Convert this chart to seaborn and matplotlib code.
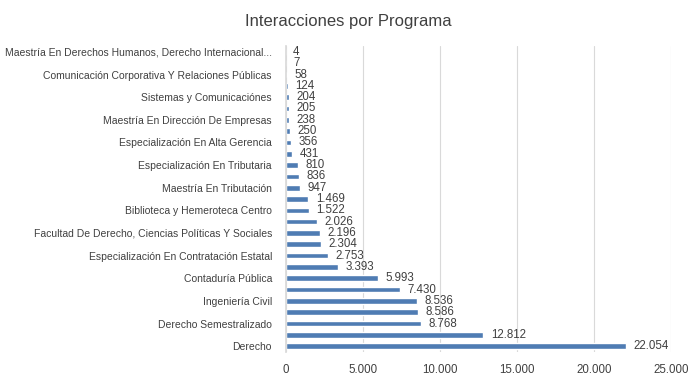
import numpy as np
import pandas as pd
import matplotlib
matplotlib.use("Agg")
import matplotlib.pyplot as plt
import seaborn as sns

# ---------------------------------------------------------------------------
# Data (top of chart -> bottom). Excel only printed every other label.
# ---------------------------------------------------------------------------
labels = [
    "Maestría En Derechos Humanos, Derecho Internacional...", "",
    "Comunicación Corporativa Y Relaciones Públicas", "",
    "Sistemas y Comunicaciónes", "",
    "Maestría En Dirección De Empresas", "",
    "Especialización En Alta Gerencia", "",
    "Especialización En Tributaria", "",
    "Maestría En Tributación", "",
    "Biblioteca y Hemeroteca Centro", "",
    "Facultad De Derecho, Ciencias Políticas Y Sociales", "",
    "Especialización En Contratación Estatal", "",
    "Contaduría Pública", "",
    "Ingeniería Civil", "",
    "Derecho Semestralizado", "",
    "Derecho",
]
interacciones = [
    4, 7, 58, 124, 204, 205, 238, 250, 356, 431, 810, 836, 947, 1469,
    1522, 2026, 2196, 2304, 2753, 3393, 5993, 7430, 8536, 8586, 8768,
    12812, 22054,
]
x_ticks = [0, 5000, 10000, 15000, 20000, 25000]

BAR = "#4F7CB3"
TXT = "#404040"


def miles(v):
    return f"{v:,.0f}".replace(",", ".")


sns.set_theme(style="white")
plt.rcParams["font.family"] = ["Liberation Sans", "DejaVu Sans"]

df = pd.DataFrame({"pos": np.arange(len(interacciones)), "valor": interacciones})

fig = plt.figure(figsize=(6.97, 3.82), dpi=100)
ax = fig.add_axes([0.410, 0.079, 0.553, 0.800])

sns.barplot(data=df, x="valor", y="pos", orient="h", native_scale=True,
            color=BAR, saturation=1, width=0.5, ax=ax)

for p, v in zip(df["pos"], df["valor"]):
    ax.text(v + 480, p, miles(v), va="center", ha="left", fontsize=8.3, color=TXT)

ax.set_xlim(0, 25000)
ax.set_ylim(len(interacciones) - 0.5, -0.5)
ax.set_xticks(x_ticks)
ax.set_xticklabels([miles(t) for t in x_ticks], fontsize=8.3, color=TXT)
ax.set_yticks(df["pos"])
ax.set_yticklabels(labels, fontsize=7.5, color=TXT)
ax.tick_params(axis="y", length=0, pad=10)
ax.tick_params(axis="x", length=0, pad=9)
ax.set_xlabel("")
ax.set_ylabel("")

ax.grid(axis="x", color="#D9D9D9", linewidth=0.8)
ax.set_axisbelow(True)
for s in ["top", "right", "bottom"]:
    ax.spines[s].set_visible(False)
ax.spines["left"].set_color("#D9D9D9")

fig.text(0.5, 0.945, "Interacciones por Programa", ha="center", va="center",
         fontsize=12, color="#404040")

fig.savefig("out.png", dpi=100)
